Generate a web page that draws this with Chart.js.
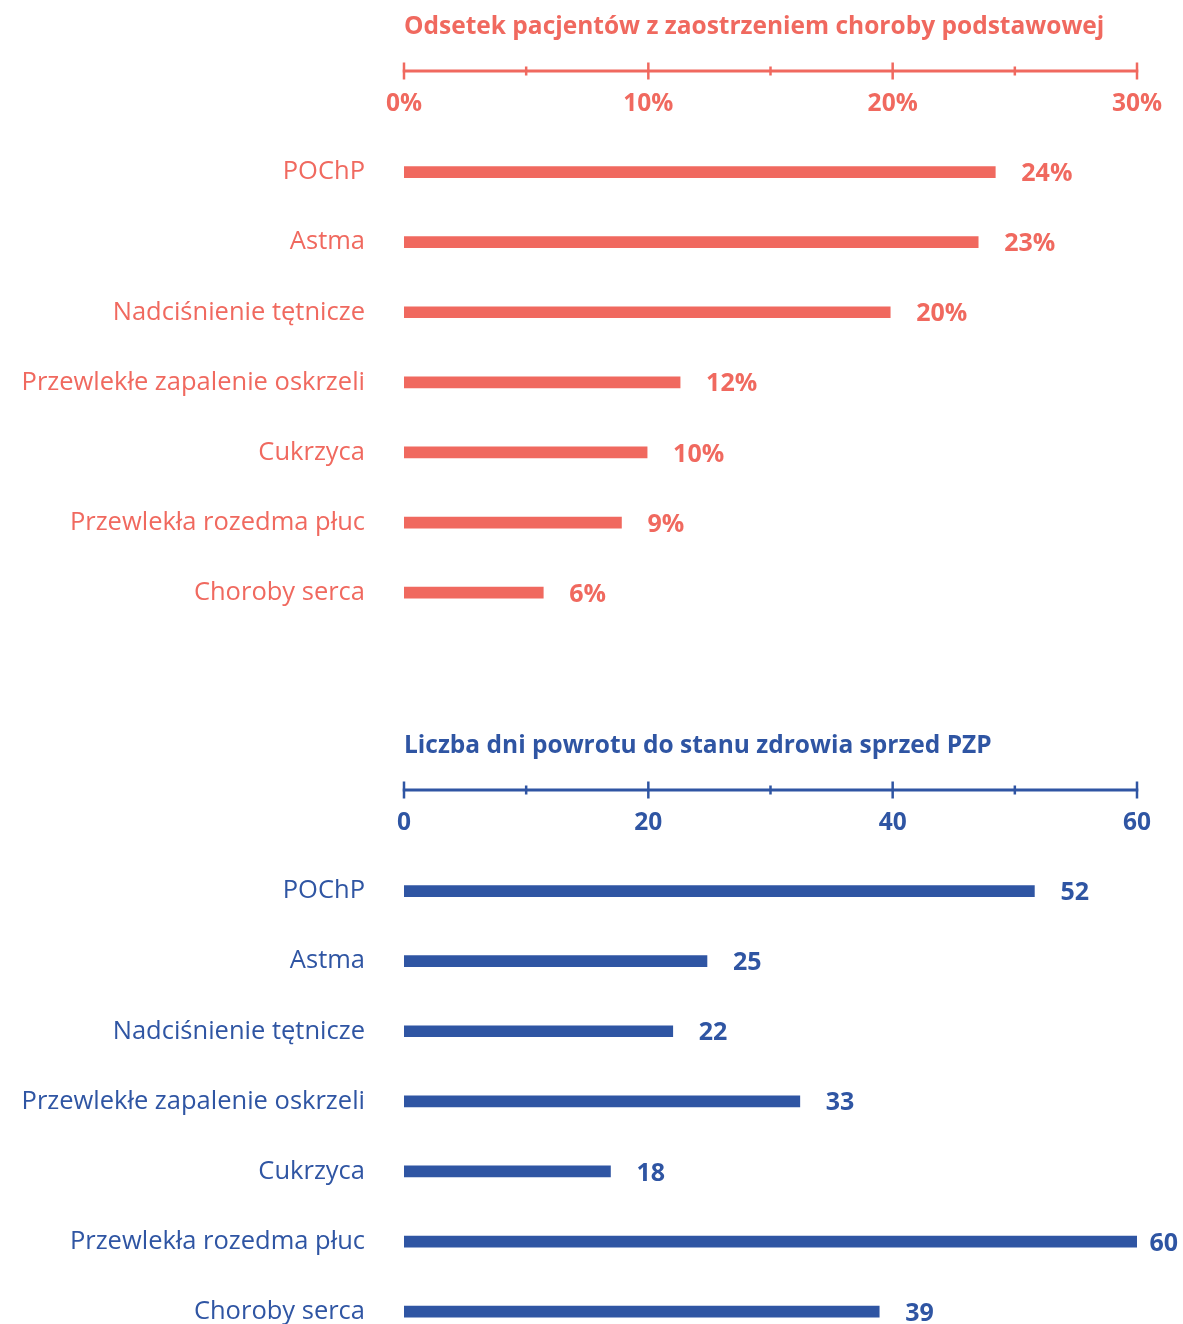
<!DOCTYPE html>
<html><head><meta charset="utf-8">
<script src="https://cdn.jsdelivr.net/npm/chart.js@4.4.1/dist/chart.umd.min.js"></script>
<style>
html,body{margin:0;padding:0;background:#fff;overflow:hidden;}
canvas{position:absolute;left:0;display:block;}
</style></head><body>
<canvas id="c1" width="1183" height="682" style="top:0"></canvas>
<canvas id="c2" width="1183" height="682" style="top:719px"></canvas>
<script>
// ---- data ----
const categories = ['POChP', 'Astma', 'Nadciśnienie tętnicze', 'Przewlekłe zapalenie oskrzeli', 'Cukrzyca', 'Przewlekła rozedma płuc', 'Choroby serca'];

const exacerbationTitle = 'Odsetek pacjentów z zaostrzeniem choroby podstawowej';
const exacerbationValues = [24.2, 23.5, 19.9, 11.3, 9.95, 8.9, 5.7];
const exacerbationLabels = ['24%', '23%', '20%', '12%', '10%', '9%', '6%'];
const exacerbationTicks = ['0%', '10%', '20%', '30%'];
const exacerbationMarks = [0, 5, 10, 15, 20, 25, 30];

const recoveryTitle = 'Liczba dni powrotu do stanu zdrowia sprzed PZP';
const recoveryValues = [51.6, 24.8, 22.0, 32.4, 16.9, 60, 38.9];
const recoveryLabels = ['52', '25', '22', '33', '18', '60', '39'];
const recoveryTicks = ['0', '20', '40', '60'];
const recoveryMarks = [0, 10, 20, 30, 40, 50, 60];

// ---- styling ----
const FONT = '"Open Sans", Lato, "Noto Sans", "DejaVu Sans", sans-serif';
const CORAL = '#f0695f';
const BLUE = '#2f55a3';

const axisPlugin = {
  id: 'axisLine',
  afterDraw(chart) {
    const o = chart.options.plugins.axisLine;
    const x = chart.scales.x;
    const ctx = chart.ctx;
    ctx.save();
    ctx.strokeStyle = o.color;
    ctx.lineCap = 'butt';
    ctx.lineWidth = 3;
    ctx.beginPath();
    ctx.moveTo(x.getPixelForValue(x.min) - 1.25, o.y);
    ctx.lineTo(x.getPixelForValue(x.max) + 1.25, o.y);
    ctx.stroke();
    ctx.lineWidth = 2.5;
    o.marks.forEach(v => {
      const px = x.getPixelForValue(v);
      const major = (v % o.majorStep) === 0;
      const h = major ? 8.5 : 4.5;
      ctx.beginPath();
      ctx.moveTo(px, o.y - h);
      ctx.lineTo(px, o.y + h);
      ctx.stroke();
    });
    const meta = chart.getDatasetMeta(0);
    ctx.fillStyle = o.color;
    ctx.font = 'bold 25px ' + FONT;
    ctx.textAlign = 'left';
    ctx.textBaseline = 'middle';
    meta.data.forEach((bar, i) => {
      const w = ctx.measureText(o.labels[i]).width;
      const tx = Math.min(bar.x + 26, chart.width - w - 5);
      ctx.fillText(o.labels[i], tx, bar.y + 2);
    });
    ctx.restore();
  }
};

function makeChart(id, title, values, labels, ticks, marks, max, step, color) {
  return new Chart(document.getElementById(id), {
    type: 'bar',
    data: {
      labels: categories,
      datasets: [{ data: values, backgroundColor: color, barThickness: 11, borderWidth: 0 }]
    },
    options: {
      indexAxis: 'y',
      responsive: false,
      maintainAspectRatio: false,
      animation: false,
      layout: { padding: { top: 0, left: 0, right: 46, bottom: 20 } },
      plugins: {
        legend: { display: false },
        tooltip: { enabled: false },
        axisLine: { y: 71, color: color, marks: marks, majorStep: step, labels: labels }
      },
      scales: {
        x: {
          position: 'top',
          min: 0, max: max,
          afterFit: (s) => { s.height = 137; },
          border: { display: false },
          grid: { display: false, drawOnChartArea: false, drawTicks: false },
          ticks: {
            stepSize: step,
            padding: 18.3,
            color: color,
            font: { family: FONT, size: 24.5, weight: 'bold' },
            callback: (v) => ticks[Math.round(v / step)] ?? ''
          },
          title: {
            display: true,
            text: title,
            align: 'start',
            color: color,
            font: { family: FONT, size: 24.5, weight: 'bold' },
            padding: { top: 12.3, bottom: 10 }
          }
        },
        y: {
          border: { display: false },
          grid: { display: false, drawTicks: false },
          afterFit: (s) => { s.width = 404; },
          ticks: {
            padding: 39,
            color: color,
            font: { family: FONT, size: 25.5 }
          }
        }
      }
    },
    plugins: [axisPlugin]
  });
}

makeChart('c1', exacerbationTitle, exacerbationValues, exacerbationLabels, exacerbationTicks, exacerbationMarks, 30, 10, CORAL);
makeChart('c2', recoveryTitle, recoveryValues, recoveryLabels, recoveryTicks, recoveryMarks, 60, 20, BLUE);
</script>
</body></html>
